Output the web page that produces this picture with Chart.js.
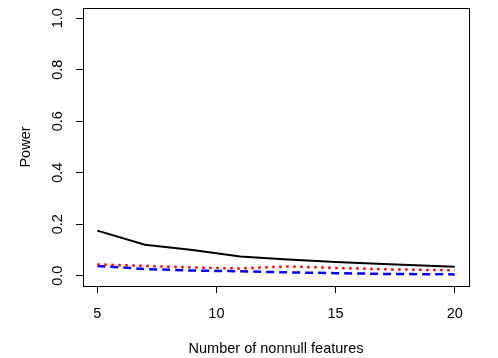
<!DOCTYPE html>
<html>
<head>
<meta charset="utf-8">
<script src="https://cdn.jsdelivr.net/npm/chart.js@4/dist/chart.umd.min.js"></script>
<style>
  html, body { margin: 0; padding: 0; background: #fff; }
  canvas { display: block; }
</style>
</head>
<body>
<canvas id="powerChart" width="498" height="358"></canvas>
<script>
// values
const nonnull = [5, 7, 9, 11, 13, 15, 17, 20];
const powerBlack = [0.175, 0.12, 0.1, 0.075, 0.063, 0.053, 0.045, 0.035];
const powerRed = [0.044, 0.038, 0.032, 0.028, 0.036, 0.03, 0.025, 0.021];
const powerBlue = [0.038, 0.026, 0.02, 0.017, 0.013, 0.01, 0.007, 0.005];
const xTicks = [5, 10, 15, 20];
const yTicks = [0, 0.2, 0.4, 0.6, 0.8, 1.0];
const yTitle = 'Power';

const FONT = 'Liberation Sans, Arial, Helvetica, sans-serif';
const FSIZE = 14.5;

const pts = (ys) => nonnull.map((x, i) => ({ x, y: ys[i] }));

// box round the plot + rotated y labels and title, like base R
const rStyle = {
  id: 'rStyle',
  afterDraw(chart) {
    const { ctx, chartArea } = chart;
    const yScale = chart.scales.y;
    ctx.save();
    ctx.strokeStyle = '#000';
    ctx.lineWidth = 1;
    ctx.strokeRect(chartArea.left + 0.5, chartArea.top + 0.5,
      chartArea.right - chartArea.left, chartArea.bottom - chartArea.top);
    ctx.fillStyle = '#000';
    ctx.font = FSIZE + 'px ' + FONT;
    ctx.textAlign = 'center';
    ctx.textBaseline = 'middle';
    yTicks.forEach((v) => {
      ctx.save();
      ctx.translate(58, yScale.getPixelForValue(v));
      ctx.rotate(-Math.PI / 2);
      ctx.fillText(v.toFixed(1), 0, 0);
      ctx.restore();
    });
    ctx.save();
    ctx.translate(26, (chartArea.top + chartArea.bottom) / 2);
    ctx.rotate(-Math.PI / 2);
    ctx.fillText(yTitle, 0, 0);
    ctx.restore();
    ctx.restore();
  },
};

new Chart(document.getElementById('powerChart'), {
  type: 'line',
  data: {
    datasets: [
      {
        data: pts(powerBlack),
        borderColor: '#000',
        borderWidth: 2,
        pointRadius: 0,
        tension: 0,
      },
      {
        data: pts(powerRed),
        borderColor: '#ff0000',
        borderWidth: 2.5,
        borderDash: [2.5, 4.5],
        pointRadius: 0,
        tension: 0,
      },
      {
        data: pts(powerBlue),
        borderColor: '#0000ff',
        borderWidth: 2.5,
        borderDash: [8, 5],
        pointRadius: 0,
        tension: 0,
      },
    ],
  },
  options: {
    responsive: false,
    animation: false,
    layout: { padding: { left: 0, top: 8, right: 29, bottom: 0 } },
    plugins: { legend: { display: false }, tooltip: { enabled: false } },
    scales: {
      x: {
        type: 'linear',
        min: 4.4,
        max: 20.6,
        afterBuildTicks: (s) => { s.ticks = xTicks.map((v) => ({ value: v })); },
        afterFit: (s) => { s.height = 72; },
        border: { display: false },
        grid: { drawOnChartArea: false, tickLength: 7, color: '#000', tickWidth: 1 },
        ticks: { color: '#000', font: { family: FONT, size: FSIZE }, padding: 12, maxRotation: 0 },
        title: {
          display: true,
          text: 'Number of nonnull features',
          color: '#000',
          font: { family: FONT, size: FSIZE },
          padding: { top: 12, bottom: 0 },
        },
      },
      y: {
        type: 'linear',
        min: -0.04,
        max: 1.04,
        afterBuildTicks: (s) => { s.ticks = yTicks.map((v) => ({ value: v })); },
        afterFit: (s) => { s.width = 83; },
        border: { display: false },
        grid: { drawOnChartArea: false, tickLength: 7, color: '#000', tickWidth: 1 },
        ticks: { display: false },
      },
    },
  },
  plugins: [rStyle],
});
</script>
</body>
</html>
